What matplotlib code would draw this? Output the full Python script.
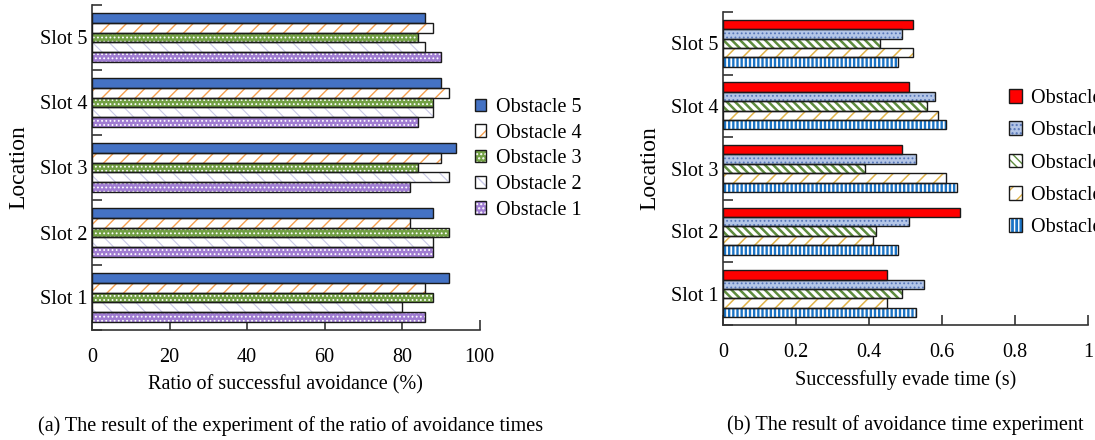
import matplotlib
matplotlib.use("Agg")
import matplotlib.pyplot as plt
import numpy as np

plt.rcParams['font.family'] = ['Liberation Serif', 'DejaVu Serif']

slots = ["Slot 1", "Slot 2", "Slot 3", "Slot 4", "Slot 5"]
obstacles = ["Obstacle 1", "Obstacle 2", "Obstacle 3", "Obstacle 4", "Obstacle 5"]

# Left chart: ratio of successful avoidance (%) per slot (Slot1..Slot5)
ratio_obs1 = [86, 88, 82, 84, 90]
ratio_obs2 = [80, 88, 92, 88, 86]
ratio_obs3 = [88, 92, 84, 88, 84]
ratio_obs4 = [86, 82, 90, 92, 88]
ratio_obs5 = [92, 88, 94, 90, 86]

# Right chart: successfully evade time (s)
time_obs1 = [0.53, 0.48, 0.64, 0.61, 0.48]
time_obs2 = [0.45, 0.41, 0.61, 0.59, 0.52]
time_obs3 = [0.49, 0.42, 0.39, 0.56, 0.43]
time_obs4 = [0.55, 0.51, 0.53, 0.58, 0.49]
time_obs5 = [0.45, 0.65, 0.49, 0.51, 0.52]

ratio_series = [ratio_obs1, ratio_obs2, ratio_obs3, ratio_obs4, ratio_obs5]
time_series = [time_obs1, time_obs2, time_obs3, time_obs4, time_obs5]

# styles: (face, hatch, hatchcolor, hatch lw)
left_styles = [
    ('#A07CD2', '....', 'white', 0.8),
    ('white', '\\\\', '#C9C9E8', 0.8),
    ('#72A044', '....', 'white', 0.8),
    ('white', '//', '#F5A050', 1.0),
    ('#4472C4', None, '#4472C4', 0.8),
]
right_styles = [
    ('#1B74C6', '||||', 'white', 1.3),
    ('white', '//', '#E2B44A', 1.1),
    ('white', '\\\\\\\\', '#5E8C3E', 1.8),
    ('#B4C6E7', '....', '#5676B8', 0.8),
    ('#FF0000', None, '#FF0000', 0.8),
]

W, H = 1095, 440
fig = plt.figure(figsize=(W / 100, H / 100), dpi=100)

FS = 14.5


def set_hlw(patches, lw):
    for p in patches:
        if hasattr(p, 'set_hatch_linewidth'):
            p.set_hatch_linewidth(lw)


def draw(ax, series, styles, xlim, xticks, xticklabels, xlabel):
    centers = np.arange(len(slots))
    bh = 0.15
    handles = []
    for k, (vals, (fc, hatch, hc, hlw)) in enumerate(zip(series, styles)):
        y = centers + (k - 2) * bh
        with plt.rc_context({'hatch.linewidth': hlw, 'hatch.color': hc}):
            b1 = ax.barh(y, vals, height=bh, facecolor=fc, edgecolor=hc,
                         hatch=hatch, linewidth=0, zorder=2)
        set_hlw(b1.patches, hlw)
        b2 = ax.barh(y, vals, height=bh, fill=False, edgecolor='#1a1a1a',
                     linewidth=1.0, zorder=3)
        handles.append((b1.patches[0], b2.patches[0]))
    ax.set_xlim(*xlim)
    ax.set_ylim(-0.5, len(slots) - 0.5)
    ax.set_xticks(xticks)
    ax.set_xticklabels(xticklabels, fontsize=FS)
    ax.set_yticks(np.arange(len(slots) + 1) - 0.5)
    ax.set_yticklabels([])
    ax.set_yticks(centers, minor=True)
    ax.set_yticklabels(slots, minor=True, fontsize=FS)
    ax.tick_params(axis='y', which='minor', length=0, pad=3)
    ax.tick_params(axis='y', which='major', direction='in', length=7, width=1.2, color='#333333')
    ax.tick_params(axis='x', direction='in', length=7, width=1.2, color='#333333', pad=13)
    for s in ['top', 'right']:
        ax.spines[s].set_visible(False)
    for s in ['left', 'bottom']:
        ax.spines[s].set_linewidth(1.2)
        ax.spines[s].set_color('#333333')
    ax.set_xlabel(xlabel, fontsize=FS, labelpad=6)
    ax.set_ylabel("Location", fontsize=17, labelpad=8)
    return handles


ax1 = fig.add_axes([92 / W, 1 - 330 / H, (479.5 - 92) / W, 325 / H])
h1 = draw(ax1, ratio_series, left_styles, (0, 100), [0, 20, 40, 60, 80, 100],
          ['0', '20', '40', '60', '80', '100'], "Ratio of successful avoidance (%)")

ax2 = fig.add_axes([723 / W, 1 - 325 / H, (1088 - 723) / W, 313 / H])
h2 = draw(ax2, time_series, right_styles, (0, 1), [0, 0.2, 0.4, 0.6, 0.8, 1.0],
          ['0', '0.2', '0.4', '0.6', '0.8', '1'], "Successfully evade time (s)")

leg1 = fig.legend(h1[::-1], obstacles[::-1], loc='upper left',
                  bbox_to_anchor=(475 / W, 1 - 98 / H), frameon=False, fontsize=FS,
                  handlelength=0.55, handleheight=0.55, handletextpad=0.5,
                  labelspacing=0.33, borderpad=0, borderaxespad=0)
leg2 = fig.legend(h2[::-1], obstacles[::-1], loc='upper left',
                  bbox_to_anchor=(1009 / W, 1 - 89 / H), frameon=False, fontsize=FS,
                  handlelength=0.65, handleheight=0.65, handletextpad=0.45,
                  labelspacing=0.66, borderpad=0, borderaxespad=0)

fig.text(291 / W, 1 - 426 / H, "(a) The result of the experiment of the ratio of avoidance times",
         ha='center', va='center', fontsize=14.5)
fig.text(727 / W, 1 - 425 / H, "(b) The result of avoidance time experiment",
         ha='left', va='center', fontsize=14.6)

fig.savefig("out.png", dpi=100)
